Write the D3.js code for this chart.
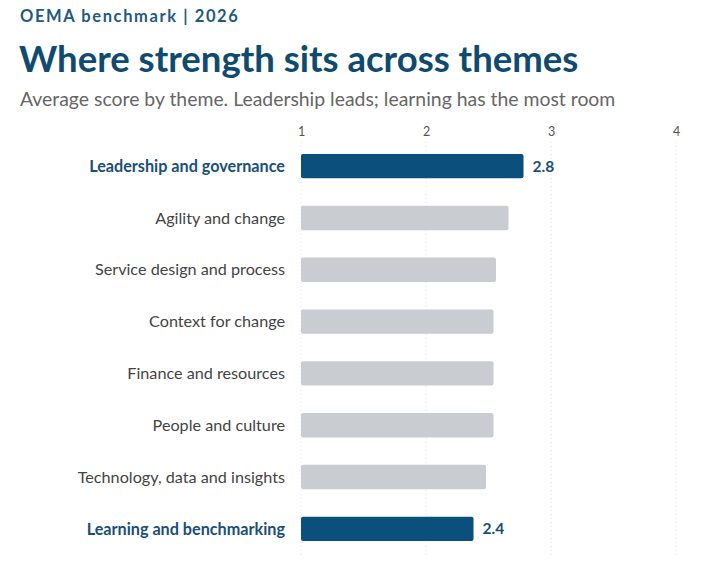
<!DOCTYPE html>
<html><head><meta charset="utf-8">
<script src="https://cdn.jsdelivr.net/npm/d3@7"></script>
<style>body{margin:0;background:#fff;font-family:Lato,"Noto Sans",sans-serif;}</style>
</head><body><svg id="chart" width="708" height="566"></svg>
<script>
const themes = ['Leadership and governance', 'Agility and change', 'Service design and process',
    'Context for change', 'Finance and resources', 'People and culture',
    'Technology, data and insights', 'Learning and benchmarking'];
const scores = [2.78, 2.66, 2.56, 2.54, 2.54, 2.54, 2.48, 2.38];
const highlighted = ['Leadership and governance', 'Learning and benchmarking'];
const tickValues = [1, 2, 3, 4];

const svg = d3.select('#chart');
const navy = '#0b4f7c';

svg.append('text').attr('x', 20).attr('y', 22).attr('fill', '#1f5a80')
    .attr('font-size', 16.5).attr('font-weight', 700).attr('letter-spacing', 1.6)
    .text('OEMA benchmark | 2026');
svg.append('text').attr('x', 19).attr('y', 72).attr('fill', '#0f4a70')
    .attr('font-size', 36.5).attr('font-weight', 700)
    .text('Where strength sits across themes');
svg.append('text').attr('x', 20).attr('y', 106).attr('fill', '#666')
    .attr('font-size', 19.4)
    .text('Average score by theme. Leadership leads; learning has the most room');

const x = d3.scaleLinear().domain([1, 4]).range([301, 676]);
const y = d3.scaleBand().domain(themes).range([141, 554]).paddingInner(0.53).paddingOuter(0.25);

const axis = svg.append('g').attr('transform', 'translate(0,136)')
    .call(d3.axisTop(x).tickValues(tickValues).tickFormat(d3.format('d')).tickSize(0).tickPadding(0));
axis.select('.domain').remove();
axis.selectAll('text').attr('font-family', 'Lato').attr('font-size', 12.5).attr('fill', '#555');

svg.append('g').selectAll('line').data(tickValues).join('line')
    .attr('x1', d => x(d)).attr('x2', d => x(d)).attr('y1', 142).attr('y2', 556)
    .attr('stroke', '#e2e2e2').attr('stroke-dasharray', '1,3');

const isHi = d => highlighted.includes(d);
const rows = svg.append('g').selectAll('g').data(themes).join('g');

rows.append('rect')
    .attr('x', x(1)).attr('y', d => y(d))
    .attr('width', (d, i) => x(scores[i]) - x(1)).attr('height', y.bandwidth())
    .attr('rx', 2).attr('fill', d => isHi(d) ? navy : '#c9ccd0');

rows.append('text')
    .attr('x', 285).attr('y', d => y(d) + y.bandwidth() / 2).attr('dy', '0.35em')
    .attr('text-anchor', 'end').attr('font-size', 16.2)
    .attr('font-weight', d => isHi(d) ? 700 : 400)
    .attr('fill', d => isHi(d) ? '#1a4f78' : '#444')
    .text(d => d);

rows.filter(isHi).append('text')
    .attr('x', d => x(scores[themes.indexOf(d)]) + 9)
    .attr('y', d => y(d) + y.bandwidth() / 2).attr('dy', '0.35em')
    .attr('font-size', 15.5).attr('font-weight', 700).attr('fill', '#1a4f78')
    .text(d => d3.format('.1f')(scores[themes.indexOf(d)]));
</script></body></html>
